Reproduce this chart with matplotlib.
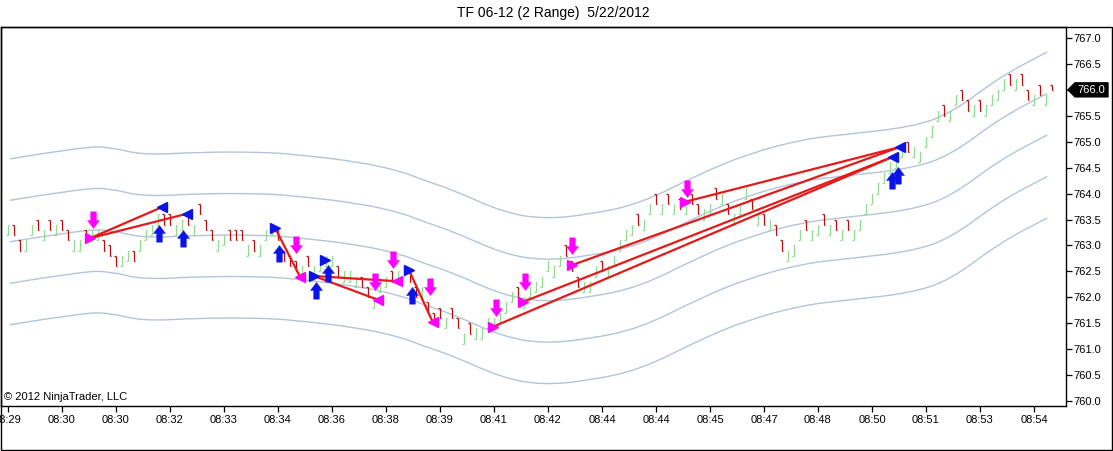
import numpy as np
import matplotlib
matplotlib.use("Agg")
import matplotlib.pyplot as plt
from matplotlib.path import Path
from matplotlib.patches import Rectangle, Polygon, PathPatch
from matplotlib.transforms import blended_transform_factory

# ---------------- data ----------------
title = "TF 06-12 (2 Range)  5/22/2012"
copyright_text = "© 2012 NinjaTrader, LLC"

bar_high = [
    763.4, 763.4, 763.1, 763.1, 763.4, 763.5, 763.3, 763.5, 763.4, 763.5,
    763.3, 763.1, 763.1, 763.3, 763.3, 763.3, 763.1, 763.0, 762.8, 762.8,
    762.9, 762.9, 763.1, 763.3, 763.4, 763.6, 763.6, 763.6, 763.4, 763.5,
    763.6, 763.4, 763.8, 763.5, 763.3, 763.1, 763.2, 763.3, 763.3, 763.3,
    763.0, 763.1, 763.0, 763.3, 763.4, 763.3, 762.9, 762.8, 762.7, 762.6,
    762.8, 762.6, 762.7, 762.8, 762.8, 762.6, 762.5, 762.5, 762.4, 762.4,
    762.2, 762.0, 762.3, 762.4, 762.5, 762.5, 762.6, 762.5, 762.2, 762.2,
    761.9, 761.7, 761.8, 761.6, 761.8, 761.6, 761.3, 761.5, 761.4, 761.4,
    761.6, 761.6, 761.7, 761.9, 762.1, 762.2, 762.0, 762.2, 762.3, 762.4,
    762.7, 762.6, 762.8, 763.0, 762.7, 762.4, 762.3, 762.3, 762.6, 762.7,
    762.6, 762.8, 763.1, 763.3, 763.4, 763.6, 763.5, 763.8, 764.0, 763.8,
    764.0, 763.8, 763.9, 763.8, 764.0, 763.8, 763.7, 763.8, 764.1, 764.0,
    763.8, 763.6, 763.8, 764.1, 763.9, 763.6, 763.6, 763.5, 763.4, 763.1,
    762.9, 763.0, 763.3, 763.5, 763.3, 763.4, 763.6, 763.4, 763.5, 763.3,
    763.5, 763.3, 763.5, 763.8, 764.0, 764.2, 764.4, 764.6, 764.7, 764.9,
    765.0, 764.9, 764.8, 765.1, 765.3, 765.6, 765.7, 765.6, 765.9, 766.0,
    765.8, 765.7, 765.8, 765.7, 765.9, 766.0, 766.2, 766.3, 766.2, 766.3,
    766.0, 765.9, 766.1, 765.9, 766.1,
]
bar_up = [
    1, 0, 0, 1, 1, 0, 1, 0, 1, 0,
    0, 1, 1, 0, 1, 1, 0, 0, 0, 1,
    1, 0, 1, 1, 1, 1, 0, 0, 1, 1,
    0, 1, 0, 0, 0, 1, 1, 0, 0, 0,
    1, 0, 1, 1, 1, 0, 0, 0, 0, 1,
    0, 1, 1, 1, 1, 0, 1, 1, 1, 0,
    0, 1, 1, 1, 0, 1, 1, 0, 0, 1,
    0, 0, 0, 1, 0, 0, 1, 0, 1, 1,
    1, 1, 1, 1, 1, 0, 1, 1, 1, 1,
    1, 1, 1, 0, 0, 0, 1, 1, 1, 0,
    1, 1, 1, 1, 1, 0, 1, 1, 0, 1,
    0, 1, 0, 1, 0, 0, 1, 1, 0, 1,
    0, 1, 1, 1, 0, 1, 0, 1, 0, 0,
    1, 1, 1, 0, 1, 1, 0, 1, 0, 1,
    0, 1, 1, 1, 1, 1, 1, 1, 1, 1,
    0, 1, 1, 1, 1, 1, 0, 1, 1, 0,
    0, 1, 0, 1, 1, 1, 1, 0, 1, 0,
    0, 1, 0, 1, 0,
]
bar_range = 0.2          # 2-tick range bars
last_bar_low = 766.0     # the still forming last bar
current_price = 766.0

x_tick_bars = [0, 9, 18, 27, 36, 45, 54, 63, 72, 81, 90, 99, 108, 117, 126, 135, 144, 153, 162, 171]
x_tick_labels = ["08:29", "08:30", "08:30", "08:32", "08:33", "08:34", "08:36", "08:38", "08:39", "08:41",
                 "08:42", "08:44", "08:44", "08:45", "08:47", "08:48", "08:50", "08:51", "08:53", "08:54"]
y_ticks = [760.0, 760.5, 761.0, 761.5, 762.0, 762.5, 763.0, 763.5, 764.0, 764.5, 765.0, 765.5, 766.0, 766.5, 767.0]

band_bars = [0.3, 12.5, 17, 22.5, 32, 42, 47.5, 58.7, 65.8, 68.7, 74.2, 82.5, 89.2, 96.5,
             105.3, 115.3, 123.2, 132.5, 140.3, 150.3, 157, 165.3, 173.2]
band_mid = [763.07, 763.30, 763.30, 763.14, 763.20, 763.20, 763.16, 763.01, 762.82, 762.68, 762.47, 762.04,
            761.91, 761.99, 762.20, 762.78, 763.16, 763.45, 763.55, 763.68, 763.93, 764.65, 765.13]
band_offsets = [-1.6, -0.8, 0.0, 0.8, 1.6]

# red connecting lines: (start bar, start price, end bar, end price)
line_x0 = [13.7, 13.7, 44.5, 51.0, 51.0, 66.8, 80.8, 85.8, 94.0, 112.8]
line_y0 = [763.14, 763.14, 763.34, 762.41, 762.41, 762.53, 761.43, 761.91, 762.62, 763.84]
line_x1 = [25.7, 29.8, 48.7, 64.8, 61.7, 70.8, 147.5, 147.5, 148.7, 148.7]
line_y1 = [763.74, 763.61, 762.39, 762.31, 761.95, 761.52, 764.71, 764.71, 764.90, 764.90]

pink_right_x = [13.7, 80.8, 85.8, 94.0, 112.8]
pink_right_y = [763.14, 761.43, 761.91, 762.62, 763.84]
pink_left_x = [48.7, 61.7, 64.8, 70.8]
pink_left_y = [762.39, 761.95, 762.31, 761.52]
blue_left_x = [25.7, 29.8, 147.5, 148.7]
blue_left_y = [763.74, 763.61, 764.71, 764.90]
blue_right_x = [44.5, 51.0, 52.8, 66.8]
blue_right_y = [763.34, 762.41, 762.72, 762.53]

down_arrow_x = [14.2, 48.0, 61.2, 64.2, 70.3, 81.3, 86.2, 94.0, 113.2]
down_arrow_tip = [763.34, 762.85, 762.14, 762.56, 762.04, 761.64, 762.14, 762.83, 763.93]
up_arrow_x = [25.2, 29.2, 45.2, 51.3, 53.3, 67.3, 147.3, 148.3]
up_arrow_tip = [763.39, 763.30, 763.01, 762.30, 762.62, 762.20, 764.42, 764.51]

# ---------------- styles ----------------
RED_BAR = "#B01010"
GREEN_BAR = "#92DA92"
BAND = "#B4C4DA"
LINE_RED = "#E41A1A"
MAGENTA = "#FF00FF"
BLUE = "#0A14E6"
FONT = "Liberation Sans"

W, H, DPI = 1113, 451, 100
fig = plt.figure(figsize=(W / DPI, H / DPI), dpi=DPI)
fig.patch.set_facecolor("white")

ax_left, ax_right, ax_top, ax_bottom = 0.5, 1066, 27, 406
ax = fig.add_axes([ax_left / W, (H - ax_bottom) / H, (ax_right - ax_left) / W, (ax_bottom - ax_top) / H])
ax.set_facecolor("white")

n = len(bar_high)
xs = np.arange(n)
highs = np.array(bar_high)
lows = highs - bar_range
lows[-1] = last_bar_low
up = np.array(bar_up).astype(bool)
opens = np.where(up, lows, highs)
closes = np.where(up, highs, lows)
colors = [GREEN_BAR if u else RED_BAR for u in up]


def smooth_path(px, py):
    """Quadratic-Bezier rendering through the read points (midpoints on the curve)."""
    pts = list(zip(px, py))
    verts = [pts[0]]
    codes = [Path.MOVETO]
    for k in range(1, len(pts) - 1):
        mid = ((pts[k][0] + pts[k + 1][0]) / 2, (pts[k][1] + pts[k + 1][1]) / 2)
        verts += [pts[k], mid]
        codes += [Path.CURVE3, Path.CURVE3]
    verts.append(pts[-1])
    codes.append(Path.LINETO)
    return Path(verts, codes)


# bands
bb = np.array(band_bars)
bm = np.array(band_mid)
for off in band_offsets:
    ax.add_patch(PathPatch(smooth_path(bb, bm + off), facecolor="none", edgecolor=BAND, lw=1.0, zorder=1))

# bars
tick_w = 0.25
ax.vlines(xs, lows, highs, colors=colors, lw=0.9, zorder=2)
ax.hlines(opens, xs - tick_w, xs, colors=colors, lw=0.9, zorder=2)
ax.hlines(closes, xs, xs + tick_w, colors=colors, lw=0.9, zorder=2)

# red lines
for a, b, c, d in zip(line_x0, line_y0, line_x1, line_y1):
    ax.plot([a, c], [b, d], color=LINE_RED, lw=1.6, zorder=3, solid_capstyle="round")

# triangles
tri_ms = 7
ax.plot(pink_right_x, pink_right_y, ls="none", marker=">", ms=tri_ms, color=MAGENTA, mec=MAGENTA, zorder=4)
ax.plot(pink_left_x, pink_left_y, ls="none", marker="<", ms=tri_ms, color=MAGENTA, mec=MAGENTA, zorder=4)
ax.plot(blue_left_x, blue_left_y, ls="none", marker="<", ms=tri_ms, color=BLUE, mec=BLUE, zorder=4)
ax.plot(blue_right_x, blue_right_y, ls="none", marker=">", ms=tri_ms, color=BLUE, mec=BLUE, zorder=4)

# arrows (tip at the marker origin)
up_verts = [(0, 0), (0.36, -0.48), (0.17, -0.48), (0.17, -1.0), (-0.17, -1.0), (-0.17, -0.48), (-0.36, -0.48), (0, 0)]
up_codes = [Path.MOVETO] + [Path.LINETO] * 6 + [Path.CLOSEPOLY]
up_path = Path(up_verts, up_codes)
down_path = Path([(x, -y) for x, y in up_verts], up_codes)
ax.plot(up_arrow_x, up_arrow_tip, ls="none", marker=up_path, ms=24, color=BLUE, mec=BLUE, mew=0.3, zorder=5)
ax.plot(down_arrow_x, down_arrow_tip, ls="none", marker=down_path, ms=24, color=MAGENTA, mec=MAGENTA, mew=0.3, zorder=5)

# axes
ax.set_xlim((ax_left - 8) / 6.0, (ax_right - 8) / 6.0)
px_per_pt = (401 - 38) / 7.0
ax.set_ylim(767.0 - (ax_bottom - 38) / px_per_pt, 767.0 + (38 - ax_top) / px_per_pt)

ax.set_xticks(x_tick_bars)
ax.set_xticklabels(x_tick_labels, fontfamily=FONT, fontsize=8)
ax.yaxis.tick_right()
ax.set_yticks(y_ticks)
# the current-price marker covers the label at its own level
ax.set_yticklabels(["" if abs(v - current_price) < 1e-9 else f"{v:.1f}" for v in y_ticks],
                   fontfamily=FONT, fontsize=8)
ax.tick_params(axis="x", direction="out", length=4, width=0.9, pad=2.5, colors="black")
ax.tick_params(axis="y", direction="out", length=4, width=0.9, pad=1.5, colors="black")
for s in ax.spines.values():
    s.set_linewidth(1.0)
    s.set_color("black")

# current price marker
tr = blended_transform_factory(ax.transAxes, ax.transData)
axw = ax_right - ax_left
hh = 7.0 / px_per_pt
poly = Polygon([(1 + 2 / axw, current_price), (1 + 9 / axw, current_price + hh),
                (1 + 42 / axw, current_price + hh), (1 + 42 / axw, current_price - hh),
                (1 + 9 / axw, current_price - hh)], closed=True, transform=tr,
               facecolor="black", edgecolor="black", clip_on=False, zorder=6)
ax.add_patch(poly)
ax.text(1 + 25 / axw, current_price, f"{current_price:.1f}", transform=tr, color="white",
        fontfamily=FONT, fontsize=8, ha="center", va="center", clip_on=False, zorder=7)

# title and copyright
fig.text(553 / W, 1 - 13 / H, title, ha="center", va="center", fontfamily=FONT, fontsize=10)
ax.text(3 / axw, (ax_bottom - 397) / (ax_bottom - ax_top), copyright_text, transform=ax.transAxes,
        ha="left", va="center", fontfamily=FONT, fontsize=8, zorder=7)

# outer frame
fig.add_artist(Rectangle((0.5 / W, (H - 449.5) / H), 1111 / W, (449.5 - 27) / H, transform=fig.transFigure,
                         fill=False, edgecolor="black", lw=1.0))

fig.savefig("out.png", dpi=DPI, facecolor="white")
